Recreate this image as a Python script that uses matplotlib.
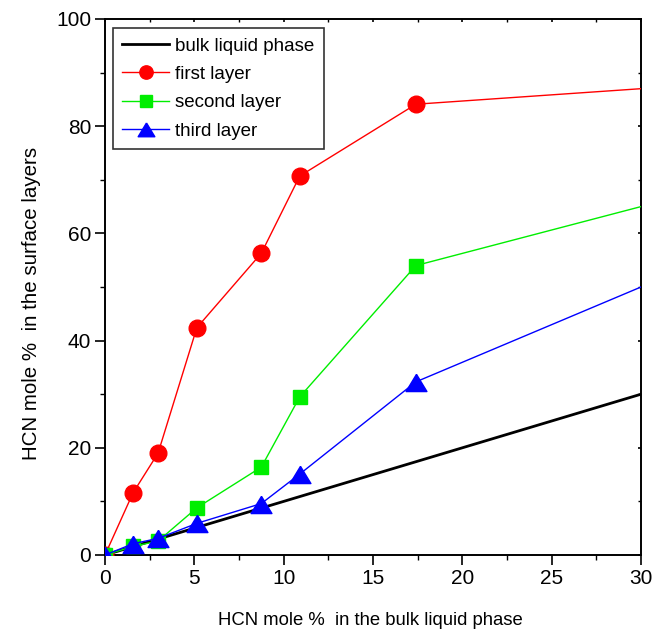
import matplotlib
matplotlib.use("Agg")
import matplotlib.pyplot as plt
from matplotlib.ticker import MultipleLocator

plt.rcParams['font.family'] = ['Liberation Sans', 'DejaVu Sans']

# bulk liquid phase (y = x reference line)
bulk_x = [0, 30]
bulk_y = [0, 30]

# HCN mole % in bulk liquid phase at the computed points
x_pts = [0, 1.57, 2.97, 5.14, 8.75, 10.9, 17.4, 30]

first_layer = [0, 11.6, 19.0, 42.4, 56.3, 70.7, 84.1, 87.0]
second_layer = [0, 1.6, 2.6, 8.8, 16.4, 29.5, 54.0, 65.0]
third_layer = [0, 2.1, 3.1, 5.9, 9.6, 15.1, 32.3, 50.0]

fig = plt.figure(figsize=(6.63, 6.30), dpi=100)
ax = fig.add_axes([105 / 663, 75 / 630, 536 / 663, 536 / 630])

# wider, flatter triangle like the original
tri = [(0, 0.9), (-1.15, -1.0), (1.15, -1.0), (0, 0.9)]

ax.plot(bulk_x, bulk_y, color='black', lw=2, label='bulk liquid phase', zorder=3)
# last point (x=30) is just the line end, no marker
marks = list(range(len(x_pts) - 1))
ax.plot(x_pts, first_layer, color='#ff0000', lw=1, marker='o', ms=12,
        markevery=marks, label='first layer', zorder=4)
ax.plot(x_pts, second_layer, color='#00ee00', lw=1, marker='s', ms=10.5,
        markevery=marks, label='second layer', zorder=4)
ax.plot(x_pts, third_layer, color='#0000ff', lw=1, marker=tri, ms=15,
        markevery=marks, label='third layer', zorder=5)

ax.set_xlim(0, 30)
ax.set_ylim(0, 100)
ax.xaxis.set_major_locator(MultipleLocator(5))
ax.xaxis.set_minor_locator(MultipleLocator(2.5))
ax.yaxis.set_major_locator(MultipleLocator(20))
ax.yaxis.set_minor_locator(MultipleLocator(10))

ax.tick_params(which='major', direction='out', length=7, width=1.2, labelsize=15,
               pad=3, top=True, right=True, labeltop=False, labelright=False)
ax.tick_params(which='minor', direction='out', length=3.5, width=1,
               top=True, right=True)
# top / right ticks are tiny and inward
for t in ax.xaxis.get_major_ticks() + ax.xaxis.get_minor_ticks():
    t.tick2line.set_marker(3)
    t.tick2line.set_markersize(2)
for t in ax.yaxis.get_major_ticks() + ax.yaxis.get_minor_ticks():
    t.tick2line.set_marker(0)
    t.tick2line.set_markersize(2)

for s in ax.spines.values():
    s.set_linewidth(1.4)

ax.set_xlabel('HCN mole %  in the bulk liquid phase', fontsize=13.3)
ax.set_ylabel('HCN mole %  in the surface layers', fontsize=14.8)
ax.xaxis.set_label_coords(0.496, -0.106)
ax.yaxis.set_label_coords(-0.12, 0.47)

leg = ax.legend(loc='upper left', bbox_to_anchor=(0.015, 0.983), borderaxespad=0,
                fontsize=13.5, frameon=True, fancybox=False, edgecolor='black',
                handlelength=2.5, borderpad=0.5, labelspacing=0.6,
                handletextpad=0.3, markerscale=0.8)
leg.get_frame().set_linewidth(1.2)

fig.savefig('out.png', dpi=100)
